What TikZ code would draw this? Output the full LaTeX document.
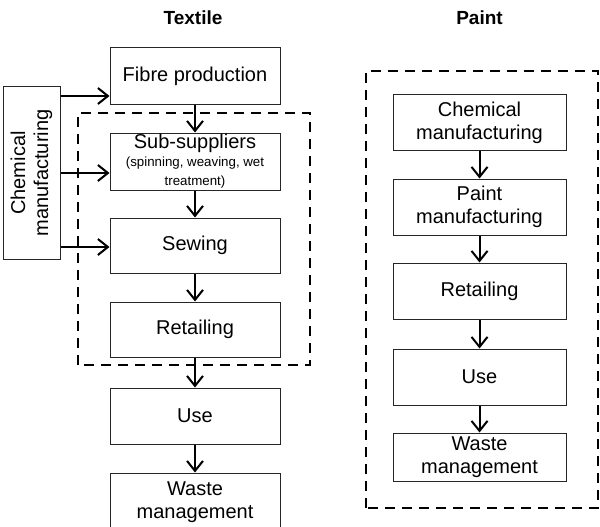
\documentclass[tikz,border=0pt]{standalone}
\usepackage{fontspec}
\setmainfont{Liberation Sans}
\usetikzlibrary{arrows.meta}
\begin{document}
\begin{tikzpicture}[x=1pt,y=-1pt,
  stagebox/.style={draw=black!85,line width=1pt,fill=white,inner sep=0pt,align=center,font=\fontsize{20}{23}\selectfont},
  arr/.style={line width=2pt,-{Straight Barb[length=10pt,width=16pt,line width=2pt]}},
  dashbox/.style={line width=2.6pt,dash pattern=on 10pt off 7pt},
  title/.style={font=\bfseries\fontsize{19}{22}\selectfont}]
\useasboundingbox (0,0) rectangle (600,527);
\begin{scope}
\clip (0,0) rectangle (600,527);
% titles
\node[title] (tt) at (193,18) {Textile};
\node[title] (tp) at (479.5,18) {Paint};
% dashed regions
\draw[dashbox] (78,365) -- (78,113) -- (310,113) -- (310,365) -- cycle;
\draw[dashbox] (366,508) -- (366,71) -- (598,71) -- (598,508) -- cycle;
% textile boxes
\node[stagebox,minimum width=170pt,minimum height=56pt] (fibre) at (195,76) {Fibre production};
\node[stagebox,minimum width=170pt,minimum height=57pt] (sub) at (195,161.5) {\raisebox{-3pt}{Sub-suppliers}\\[-2pt]{\fontsize{13.3}{15}\selectfont (spinning, weaving, wet}\\[-4pt]{\fontsize{13.3}{15}\selectfont treatment)}};
\node[stagebox,minimum width=170pt,minimum height=55pt] (sew) at (195,245.5) {Sewing};
\node[stagebox,minimum width=170pt,minimum height=55pt] (tret) at (195,329.5) {Retailing};
\node[stagebox,minimum width=170pt,minimum height=56pt] (tuse) at (195,416) {Use};
\node[stagebox,minimum width=170pt,minimum height=70pt,text depth=16pt] (twaste) at (195,508) {Waste\\management};
% chemical manufacturing (textile)
\node[stagebox,minimum width=172pt,minimum height=57pt,rotate=90] (chem) at (31.5,173) {Chemical\\manufacturing};
% paint boxes
\node[stagebox,minimum width=173pt,minimum height=55pt] (pchem) at (479.5,122.5) {Chemical\\manufacturing};
\node[stagebox,minimum width=173pt,minimum height=56pt] (pman) at (479.5,207) {Paint\\manufacturing};
\node[stagebox,minimum width=173pt,minimum height=56pt] (pret) at (479.5,291) {Retailing};
\node[stagebox,minimum width=173pt,minimum height=56pt] (puse) at (479.5,377) {Use};
\node[stagebox,minimum width=173pt,minimum height=48pt] (pwaste) at (479.5,457) {Waste\\management};
% textile arrows
\draw[arr] (fibre) -- (sub);
\draw[arr] (sub) -- (sew);
\draw[arr] (sew) -- (tret);
\draw[arr] (tret) -- (tuse);
\draw[arr] (tuse) -- (twaste.north);
% chemical inputs
\coordinate (y1) at (0,96);
\coordinate (y2) at (0,173);
\coordinate (y3) at (0,247);
\draw[arr] (chem.south |- y1) -- (fibre.west |- y1);
\draw[arr] (chem.south |- y2) -- (sub.west |- y2);
\draw[arr] (chem.south |- y3) -- (sew.west |- y3);
% paint arrows
\draw[arr] (pchem) -- (pman);
\draw[arr] (pman) -- (pret);
\draw[arr] (pret) -- (puse);
\draw[arr] (puse) -- (pwaste);
\end{scope}
\end{tikzpicture}
\end{document}
